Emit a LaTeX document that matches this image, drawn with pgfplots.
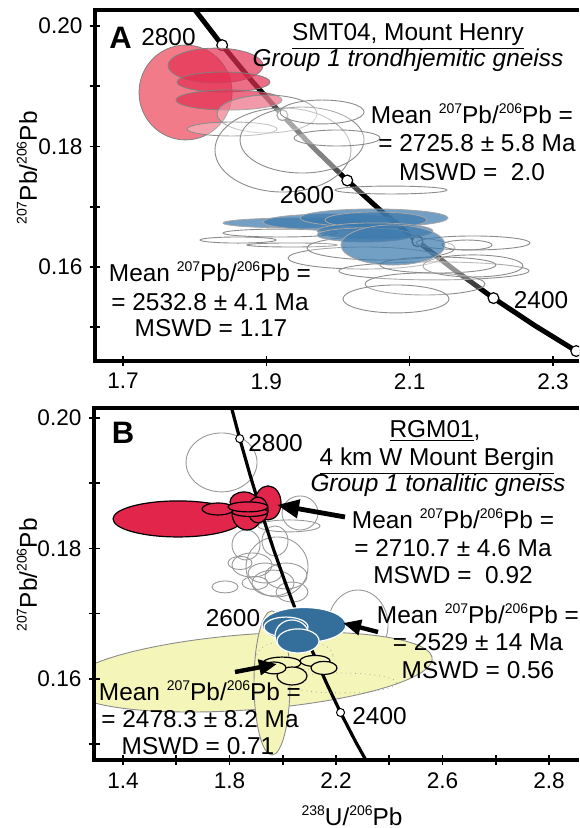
\documentclass[border=0pt]{standalone}
\usepackage{fontspec}
\setmainfont{Liberation Sans}
\usepackage{pgfplots}
\pgfplotsset{compat=1.18}
\usetikzlibrary{arrows.meta}

\definecolor{pinkA}{HTML}{F27B89}
\definecolor{redA}{HTML}{E42F52}
\definecolor{blueA}{HTML}{3D7AAE}
\definecolor{redB}{HTML}{E2264B}
\definecolor{blueB}{HTML}{346F9C}
\definecolor{yelB}{HTML}{F4F5B9}

\newcommand{\sups}[1]{\raisebox{0.78ex}{\fontsize{7}{8}\selectfont #1}}
\newcommand{\PbPb}{\sups{207}Pb/\sups{206}Pb}

\pgfdeclareplotmark{ell}{%
  \pgfpathellipse{\pgfpointorigin}%
    {\pgfplotspointaxisdirectionxy{\ellrx}{0}}%
    {\pgfplotspointaxisdirectionxy{\ellsx}{\ellry}}%
  \pgfusepathqfillstroke}

\pgfplotsset{
  ellipses/.style={scatter, only marks, mark=ell,
    scatter/@pre marker code/.code={},
    scatter/@post marker code/.code={},
    visualization depends on={value \thisrow{rx}\as\ellrx},
    visualization depends on={value \thisrow{ry}\as\ellry},
    visualization depends on={value \thisrow{sx}\as\ellsx},
    mark options={#1}},
  common/.style={scale only axis, disabledatascaling, clip marker paths=true,
    axis line style={draw=none}, tick pos=left, tick align=center,
    major tick length=5.5pt, every tick/.style={black, line width=0.8pt},
    tick label style={font=\fontsize{11.3}{13}\selectfont}, axis on top},
}

\tikzset{
  txt/.style={font=\fontsize{12.2}{14}\selectfont, inner sep=0pt, anchor=base, yshift=-4.4pt},
  bigl/.style={font=\fontsize{15.5}{17}\selectfont\bfseries, inner sep=0pt, anchor=base, yshift=-5.6pt},
}
\newcommand{\halo}[3][]{\node[txt,#1] at #2 {#3};}

\begin{document}
\begin{tikzpicture}
% ---------------- Panel A ----------------
\begin{axis}[common, name=A, at={(47.5pt,233.5pt)}, anchor=south west,
  width=242pt, height=175.5pt,
  xmin=1.6609, xmax=2.3363, ymin=0.1444, ymax=0.20266,
  xtick={1.7,1.9,2.1,2.3}, xticklabels={1.7,1.9,2.1,2.3},
  ytick={0.15,0.16,0.17,0.18,0.19,0.20}, yticklabels={,0.16,,0.18,,0.20}]
% concordia
\addplot[black, line width=2.5pt] table {
x y
2.45857 0.137821
2.33245 0.146035
2.27347 0.150358
2.21696 0.154832
2.16279 0.159466
2.11080 0.164261
2.06088 0.169226
2.01291 0.174366
1.96677 0.179689
1.92236 0.185200
1.87959 0.190906
1.83837 0.196819
1.79863 0.202945
1.76027 0.209282
};
\addplot[only marks, mark=*, mark size=2.7pt, mark options={fill=white, draw=black, line width=0.6pt}] table {
x y
2.33245 0.146035
2.21696 0.154832
2.11080 0.164261
2.01291 0.174366
1.92236 0.185200
1.83837 0.196819
};
% red
\addplot[ellipses={fill=pinkA, draw=black!50, line width=0.4pt}] table {
x y rx ry sx
1.7872 0.18896 0.0649 0.00788 0
};
\addplot[ellipses={fill=redA, fill opacity=0.7, draw=black!50, line width=0.4pt}] table {
x y rx ry sx
1.8291 0.19344 0.0663 0.00290 0
1.8402 0.19071 0.0649 0.00166 0
1.8479 0.18772 0.0740 0.00166 0
};
% grey upper
\addplot[ellipses={fill=white, fill opacity=0.3, draw=black!45, line width=0.45pt}] table {
x y rx ry sx
1.9009 0.18539 0.0698 0.00315 0
1.8521 0.18290 0.0628 0.00116 0
1.9232 0.17942 0.0949 0.00697 0
1.9498 0.18108 0.0865 0.00548 0
1.9986 0.18141 0.0600 0.00133 0
1.9777 0.18573 0.0586 0.00199 0
2.0739 0.17278 0.0781 0.00066 0
};
% grey lower
\addplot[ellipses={fill=white, fill opacity=0.25, draw=black!45, line width=0.45pt}] table {
x y rx ry sx
1.9191 0.16564 0.0795 0.00066 0
1.8605 0.16448 0.0530 0.00050 0
1.9358 0.16365 0.0628 0.00033 0
2.0363 0.16149 0.1060 0.00183 0
2.0600 0.16315 0.1033 0.00199 0
2.1883 0.16398 0.0795 0.00116 0
2.1800 0.16365 0.0349 0.00083 0
2.1339 0.15934 0.1326 0.00149 0
2.1214 0.15718 0.0837 0.00183 0
2.0809 0.15469 0.0740 0.00232 0
2.1883 0.16017 0.0698 0.00183 0
2.1395 0.16033 0.0809 0.00133 0
};
% blue
\addplot[ellipses={fill=blueA, fill opacity=0.72, draw=black!35, line width=0.4pt}] table {
x y rx ry sx
1.9400 0.16730 0.1005 0.00083 0
1.9902 0.16747 0.0949 0.00133 0
2.0502 0.16813 0.1033 0.00149 0
2.0530 0.16780 0.0712 0.00133 0
2.0516 0.16598 0.0809 0.00133 0
2.0377 0.16531 0.0670 0.00116 0
2.0767 0.16365 0.0726 0.00332 0
};
\end{axis}
\draw[line width=1.6pt] (A.north east) -- (A.north west) -- (A.south west) -- (A.south east);

% ---------------- Panel B ----------------
\begin{axis}[common, name=B, at={(47pt,34pt)}, anchor=south west,
  width=242.5pt, height=176pt,
  xmin=1.291, xmax=3.1127, ymin=0.14755, ymax=0.20153,
  xtick={1.4,1.6,1.8,2.0,2.2,2.4,2.6,2.8,3.0}, xticklabels={1.4,,1.8,,2.2,,2.6,,2.8},
  ytick={0.15,0.16,0.17,0.18,0.19,0.20}, yticklabels={,0.16,,0.18,,0.20}]
% grey
\addplot[ellipses={fill=white, fill opacity=0, draw=black!40, line width=0.45pt}] table {
x y rx ry sx
1.7700 0.19317 0.1333 0.00452 0
2.0648 0.18543 0.0676 0.00261 0
2.0235 0.18344 0.1164 0.00092 0
1.8620 0.18052 0.0526 0.00230 0
1.9709 0.18113 0.0488 0.00230 0
1.9784 0.17715 0.1164 0.00460 0
1.8394 0.17776 0.0451 0.00100 0
1.7831 0.17408 0.0488 0.00092 0
1.9333 0.17623 0.0638 0.00153 0
1.9634 0.17469 0.0789 0.00199 0
2.0122 0.17577 0.0789 0.00199 0
1.8958 0.17469 0.0488 0.00100 0
2.2826 0.16825 0.1127 0.00537 0
2.0347 0.17331 0.0601 0.00153 0
1.8845 0.17745 0.0751 0.00184 0
};
% yellow
\addplot[ellipses={fill=yelB, draw=black!45, line width=0.45pt}] table {
x y rx ry sx
1.8770 0.16104 0.6460 0.00613 0.2254
1.9596 0.15936 0.0676 0.01104 0
};
% concordia
\addplot[black, line width=1.6pt] table {
x y
2.45857 0.137821
2.33245 0.146035
2.27347 0.150358
2.21696 0.154832
2.16279 0.159466
2.11080 0.164261
2.06088 0.169226
2.01291 0.174366
1.96677 0.179689
1.92236 0.185200
1.87959 0.190906
1.83837 0.196819
1.79863 0.202945
1.76027 0.209282
};
\addplot[only marks, mark=*, mark size=2pt, mark options={fill=white, draw=black, line width=0.5pt}] table {
x y
2.21696 0.154832
1.83837 0.196819
};
% dotted
\addplot[ellipses={fill=white, fill opacity=0, draw=black!35, dotted, line width=0.4pt}] table {
x y rx ry sx
2.0460 0.16365 0.1427 0.00230 0
2.2150 0.15936 0.2141 0.00153 0
};
% red
\addplot[ellipses={fill=redB, draw=black, line width=0.6pt}] table {
x y rx ry sx
1.6066 0.18451 0.2441 0.00276 0
1.7568 0.18604 0.0601 0.00092 0
1.8657 0.18543 0.0563 0.00261 0
1.9446 0.18696 0.0488 0.00261 0
1.8545 0.18712 0.0526 0.00153 0
1.9070 0.18589 0.0376 0.00199 0
1.8770 0.18558 0.0676 0.00069 0
1.8695 0.18635 0.0751 0.00077 0
};
% blue
\addplot[ellipses={fill=blueB, draw=white, line width=0.6pt}] table {
x y rx ry sx
2.0798 0.16825 0.1577 0.00268 0
2.0122 0.16794 0.0826 0.00153 0
2.0347 0.16656 0.0638 0.00245 0
2.0573 0.16580 0.0789 0.00184 0
};
% black-outlined
\addplot[ellipses={fill=yelB, draw=black, line width=0.6pt}] table {
x y rx ry sx
1.9972 0.16242 0.0714 0.00092 0
2.0347 0.16043 0.0563 0.00138 0
2.1211 0.16273 0.0563 0.00084 0
2.1549 0.16166 0.0488 0.00100 0
1.9671 0.16166 0.0451 0.00092 0
};
\end{axis}
\draw[line width=1.6pt] (B.north east) -- (B.north west) -- (B.south west) -- (B.south east);

% ---------------- Texts A ----------------
\node[bigl] at (60.25pt,395.25pt) {A};
\halo{(84.25pt,395.75pt)}{2800}
\node[txt] at (204pt,398pt) {\underline{SMT04, Mount Henry}};
\node[txt] at (204pt,385pt) {\itshape Group 1 trondhjemitic gneiss};
\halo{(236pt,356.5pt)}{Mean \PbPb\ =}
\halo{(238.5pt,342.5pt)}{= 2725.8 ± 5.8 Ma}
\halo{(236pt,328pt)}{MSWD = \ 2.0}
\halo{(153.5pt,316.5pt)}{2600}
\halo{(270.5pt,264pt)}{2400}
\halo{(105pt,277.5pt)}{Mean \PbPb\ =}
\halo{(105pt,263pt)}{= 2532.8 ± 4.1 Ma}
\halo{(105.5pt,250pt)}{MSWD = 1.17}
\node[font=\fontsize{12.2}{14}\selectfont, rotate=90, inner sep=0pt] at (13.5pt,330pt) {\PbPb};

% ---------------- Texts B ----------------
\node[bigl] at (61.5pt,198pt) {B};
\halo[anchor=base west]{(124pt,192.5pt)}{2800}
\node[txt] at (217.5pt,199.5pt) {\underline{RGM01},};
\node[txt] at (218.5pt,185.5pt) {\underline{4 km W Mount Bergin}};
\node[txt] at (219pt,172.5pt) {\itshape Group 1 tonalitic gneiss};
\halo{(226.5pt,154pt)}{Mean \PbPb\ =}
\halo{(226.5pt,140pt)}{= 2710.7 ± 4.6 Ma}
\halo{(226.5pt,126.5pt)}{MSWD = \ 0.92}
\halo{(116.5pt,105pt)}{2600}
\halo{(239pt,106.5pt)}{Mean \PbPb\ =}
\halo{(239pt,93pt)}{= 2529 ± 14 Ma}
\halo{(239pt,79pt)}{MSWD = 0.56}
\halo[anchor=base west]{(176pt,56pt)}{2400}
\halo{(100pt,68pt)}{Mean \PbPb\ =}
\halo{(100pt,54.5pt)}{= 2478.3 ± 8.2 Ma}
\halo{(99pt,41pt)}{MSWD = 0.71}
\node[font=\fontsize{12.2}{14}\selectfont, rotate=90, inner sep=0pt] at (13.5pt,126.5pt) {\PbPb};
\node[txt] at (176pt,5.5pt) {\sups{238}U/\sups{206}Pb};

% arrows
\draw[line width=2.4pt, -{Triangle[length=11pt, width=9pt]}] (172.5pt,155.5pt) -- (138.5pt,161.5pt);
\draw[line width=2.2pt, -{Triangle[length=9pt, width=7.5pt]}] (189pt,98pt) -- (171.5pt,102.5pt);
\draw[line width=2.2pt, -{Triangle[length=9pt, width=7.5pt]}] (117.5pt,78pt) -- (138.5pt,82pt);

\pgfresetboundingbox
\useasboundingbox (0pt,0pt) rectangle (289.5pt,414pt);
\end{tikzpicture}
\end{document}
